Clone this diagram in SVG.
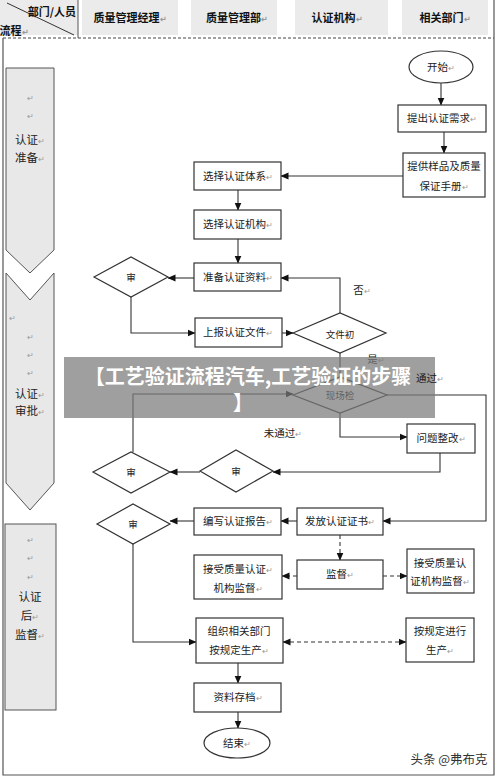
<svg xmlns="http://www.w3.org/2000/svg" width="500" height="777" viewBox="0 0 500 777">
<defs>
<marker id="ah" markerWidth="8" markerHeight="8" refX="7.5" refY="4" orient="auto" markerUnits="userSpaceOnUse"><path d="M0,0.5 L8,4 L0,7.5 z" fill="#111"/></marker>
<marker id="ahs" markerWidth="8" markerHeight="8" refX="0.5" refY="4" orient="auto" markerUnits="userSpaceOnUse"><path d="M8,0.5 L0,4 L8,7.5 z" fill="#111"/></marker>
<style>
text{font-family:"Noto Sans CJK SC","Liberation Sans",sans-serif;fill:#222;}
.hd{font-size:11px;font-weight:bold;text-anchor:middle;fill:#111;}
.hc{fill:#ebebeb;}
.ph{fill:#e8e8e8;stroke:#555;stroke-width:1;}
.pt{font-size:11.5px;text-anchor:middle;fill:#222;}
.pm{font-size:8px;fill:#9a9a9a;}
.bx{fill:#fff;stroke:#333;stroke-width:1.2;}
.t{font-size:10.5px;text-anchor:middle;}
.dt{font-size:9.5px;text-anchor:middle;}
.c{fill:none;stroke:#333;stroke-width:1.1;}
.ca{fill:none;stroke:#333;stroke-width:1.1;marker-end:url(#ah);}
.cd{fill:none;stroke:#333;stroke-width:1.1;stroke-dasharray:4,3;marker-end:url(#ah);}
.fr{fill:none;stroke:#555;stroke-width:1.2;}
.ov{font-size:20px;font-weight:bold;text-anchor:middle;fill:#fff;}
</style>
</defs>

<g id="header">
<rect class="hc" x="0" y="0" width="78" height="35"/>
<rect class="hc" x="82" y="0" width="96" height="35"/>
<rect class="hc" x="191" y="0" width="86" height="35"/>
<rect class="hc" x="295" y="0" width="93" height="35"/>
<rect class="hc" x="402" y="0" width="86" height="35"/>
<line x1="7" y1="3" x2="74" y2="35" stroke="#333" stroke-width="1"/>
<line x1="78" y1="0" x2="78" y2="38" stroke="#555" stroke-width="1"/>
<text class="hd" x="52" y="16">部门/人员</text>
<text class="hd" x="14" y="35">流程<tspan class="pm">↵</tspan></text>
<text class="hd" x="130" y="22">质量管理经理<tspan class="pm">↵</tspan></text>
<text class="hd" x="237" y="22">质量管理部<tspan class="pm">↵</tspan></text>
<text class="hd" x="337" y="22">认证机构<tspan class="pm">↵</tspan></text>
<text class="hd" x="445" y="22">相关部门<tspan class="pm">↵</tspan></text>
</g>

<g id="frame">
<line x1="3" y1="38" x2="494" y2="38" stroke="#444" stroke-width="1" stroke-dasharray="3,2"/>
<path class="fr" d="M3,38 V775 H494 V0"/>
</g>

<g id="phase1">
<polygon class="ph" points="6,68 54,68 54,250 30,273 6,250"/>
<text class="pm" x="27" y="101">↵</text>
<text class="pm" x="27" y="119">↵</text>
<text class="pt" x="30" y="144">认证<tspan class="pm">↵</tspan></text>
<text class="pt" x="30" y="162">准备<tspan class="pm">↵</tspan></text>
</g>
<g id="phase2">
<polygon class="ph" points="6,273 30,300 54,273 54,483 30,510 6,483"/>
<text class="pm" x="9" y="321">↵</text>
<text class="pm" x="27" y="340">↵</text>
<text class="pm" x="27" y="358">↵</text>
<text class="pm" x="27" y="376">↵</text>
<text class="pt" x="30" y="398">认证<tspan class="pm">↵</tspan></text>
<text class="pt" x="30" y="415">审批<tspan class="pm">↵</tspan></text>
</g>
<g id="phase3">
<rect class="ph" x="5" y="524" width="51" height="186"/>
<text class="pm" x="27" y="543">↵</text>
<text class="pm" x="27" y="561">↵</text>
<text class="pm" x="27" y="580">↵</text>
<text class="pt" x="30" y="601">认证</text>
<text class="pt" x="30" y="620">后<tspan class="pm">↵</tspan></text>
<text class="pt" x="30" y="639">监督<tspan class="pm">↵</tspan></text>
</g>

<g id="connectors">
<path class="ca" d="M441,83 V105"/>
<path class="ca" d="M444,132 V153"/>
<path class="ca" d="M403,176 H281"/>
<path class="ca" d="M238,190 V210"/>
<path class="ca" d="M238,239 V263"/>
<path class="ca" d="M194,278 H168"/>
<path class="ca" d="M131,297 V333 H195"/>
<path class="ca" d="M282,333 H293"/>
<path class="ca" d="M340,313 V278 H281"/>
<path class="c" d="M340,353 V377"/>
<path class="ca" d="M133,452 V394 H293"/>
<path class="ca" d="M387,395 H486 V521 H383"/>
<path class="ca" d="M340,413 V437 H407"/>
<path class="ca" d="M440,453 V472 H273"/>
<path class="ca" d="M200,472 H170"/>
<path class="ca" d="M297,521 H281"/>
<path class="ca" d="M194,521 H170"/>
<path class="ca" d="M133,544 V642 H196"/>
<path class="cd" d="M340,535 V560"/>
<path class="cd" d="M297,576 H282"/>
<path class="cd" d="M383,576 H407"/>
<path class="cd" d="M283,642 H406" marker-start="url(#ahs)"/>
<path class="ca" d="M238,663 V683"/>
<path class="ca" d="M238,712 V728"/>
</g>

<g id="start"><ellipse class="bx" cx="441" cy="67" rx="32" ry="16"/><text class="t" x="441" y="71">开始<tspan class="pm">↵</tspan></text></g>
<g id="n_req"><rect class="bx" x="398" y="105" width="88" height="27"/><text class="t" x="442" y="122">提出认证需求<tspan class="pm">↵</tspan></text></g>
<g id="n_sample"><rect class="bx" x="403" y="153" width="82" height="44"/><text class="t" x="444" y="170">提供样品及质量</text><text class="t" x="444" y="190">保证手册<tspan class="pm">↵</tspan></text></g>
<g id="n_system"><rect class="bx" x="194" y="162" width="87" height="28"/><text class="t" x="238" y="180">选择认证体系<tspan class="pm">↵</tspan></text></g>
<g id="n_agency"><rect class="bx" x="194" y="210" width="87" height="29"/><text class="t" x="238" y="228">选择认证机构<tspan class="pm">↵</tspan></text></g>
<g id="n_prepare"><rect class="bx" x="194" y="263" width="87" height="28"/><text class="t" x="238" y="281">准备认证资料<tspan class="pm">↵</tspan></text></g>
<g id="d_review1"><polygon class="bx" points="94,277 131,257 168,277 131,297"/><text class="dt" x="131" y="281">审</text></g>
<g id="n_submit"><rect class="bx" x="195" y="318" width="87" height="29"/><text class="t" x="238" y="336">上报认证文件<tspan class="pm">↵</tspan></text></g>
<g id="d_docreview"><polygon class="bx" points="293,333 340,313 386,333 340,353" /><text class="dt" x="340" y="338">文件初</text></g>
<g id="l_no"><text class="t" x="362" y="294">否<tspan class="pm">↵</tspan></text></g>
<g id="l_yes"><text class="t" x="376" y="363">是<tspan class="pm">↵</tspan></text></g>
<g id="d_inspect"><polygon class="bx" points="293,395 340,377 387,395 340,413"/><text class="dt" x="340" y="399">现场检</text></g>
<g id="n_fix"><rect class="bx" x="407" y="424" width="68" height="29"/><text class="t" x="441" y="442">问题整改<tspan class="pm">↵</tspan></text></g>
<g id="l_fail"><text class="t" x="283" y="437">未通过<tspan class="pm">↵</tspan></text></g>
<g id="d_review2"><polygon class="bx" points="200,471 236,450 273,471 236,492"/><text class="dt" x="236" y="475">审</text></g>
<g id="d_review3"><polygon class="bx" points="93,472 131,452 170,472 131,493"/><text class="dt" x="131" y="476">审</text></g>
<g id="n_cert"><rect class="bx" x="297" y="508" width="86" height="27"/><text class="t" x="340" y="525">发放认证证书<tspan class="pm">↵</tspan></text></g>
<g id="n_report"><rect class="bx" x="194" y="508" width="87" height="27"/><text class="t" x="238" y="525">编写认证报告<tspan class="pm">↵</tspan></text></g>
<g id="d_review4"><polygon class="bx" points="97,524 133,504 170,524 133,544"/><text class="dt" x="133" y="528">审</text></g>
<g id="n_supervise"><rect class="bx" x="297" y="560" width="86" height="29"/><text class="t" x="340" y="578">监督<tspan class="pm">↵</tspan></text></g>
<g id="n_accept1"><rect class="bx" x="194" y="555" width="88" height="44"/><text class="t" x="238" y="573">接受质量认证<tspan class="pm">↵</tspan></text><text class="t" x="238" y="592">机构监督<tspan class="pm">↵</tspan></text></g>
<g id="n_accept2"><rect class="bx" x="407" y="549" width="67" height="44"/><text class="t" x="440" y="567">接受质量认</text><text class="t" x="440" y="585">证机构监督<tspan class="pm">↵</tspan></text></g>
<g id="n_organize"><rect class="bx" x="196" y="618" width="87" height="45"/><text class="t" x="239" y="635">组织相关部门</text><text class="t" x="239" y="654">按规定生产<tspan class="pm">↵</tspan></text></g>
<g id="n_produce"><rect class="bx" x="406" y="618" width="68" height="44"/><text class="t" x="440" y="635">按规定进行</text><text class="t" x="440" y="654">生产<tspan class="pm">↵</tspan></text></g>
<g id="n_archive"><rect class="bx" x="194" y="683" width="87" height="29"/><text class="t" x="238" y="701">资料存档<tspan class="pm">↵</tspan></text></g>
<g id="end"><ellipse class="bx" cx="237" cy="743" rx="33" ry="15"/><text class="t" x="237" y="747">结束<tspan class="pm">↵</tspan></text></g>

<g id="overlay">
<rect x="64" y="357" width="371" height="61" fill="#7a7a7a" fill-opacity="0.72"/>
<text class="ov" x="248" y="384">【工艺验证流程汽车,工艺验证的步骤</text>
<text class="ov" x="243" y="410">】</text>
</g>
<g id="l_pass"><text x="416" y="382" font-size="10.5">通过<tspan class="pm">↵</tspan></text></g>
<g id="watermark"><text x="449" y="764" font-size="12.5" text-anchor="middle" style="fill:#333">头条 @弗布克</text></g>
</svg>
